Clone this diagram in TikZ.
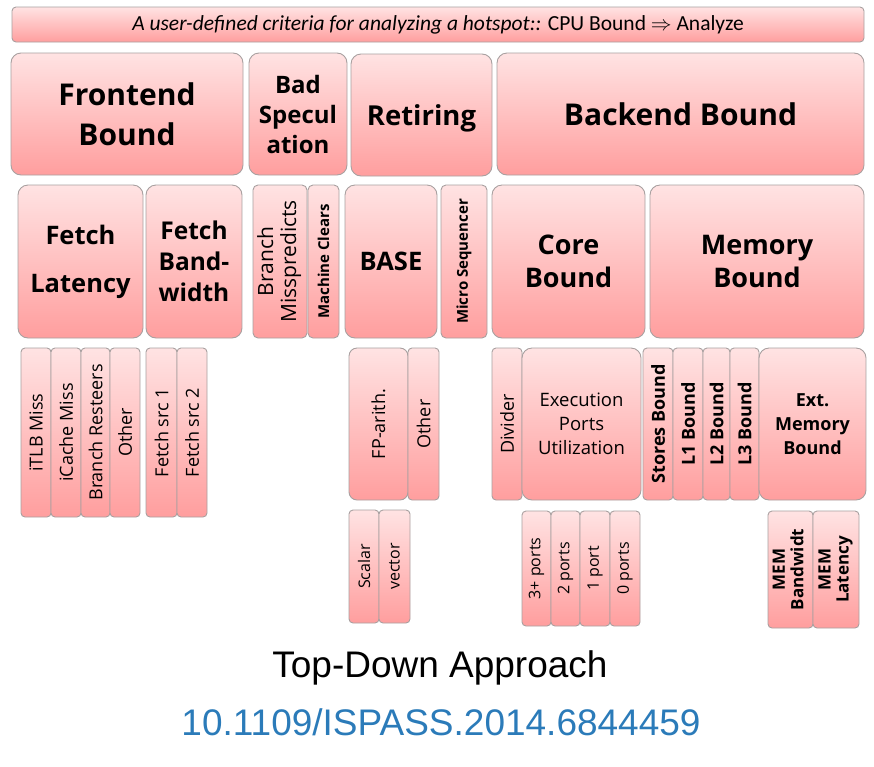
\documentclass[tikz,border=0pt]{standalone}
\usepackage{fontspec}
\setmainfont{Open Sans}
\newfontfamily\carl{Carlito}
\newfontfamily\arialf{Liberation Sans}
\definecolor{pinktop}{HTML}{FFE3E3}
\definecolor{pinkbot}{HTML}{FF9E9E}
\definecolor{edgegray}{HTML}{A8A0A0}
\definecolor{doiblue}{HTML}{2B7BB9}
\tikzset{
  cell/.style={draw=edgegray, line width=0.9pt, rounded corners=#1, top color=pinktop, bottom color=pinkbot, inner sep=0pt, outer sep=0pt, align=center},
  cell/.default=4pt,
  fbig/.style={font=\fontsize{30}{40}\selectfont\bfseries},
  fmid/.style={font=\fontsize{27}{33}\selectfont\bfseries},
  fsmall/.style={font=\fontsize{18}{20}\selectfont},
  fsmallb/.style={font=\fontsize{18}{20}\selectfont\bfseries},
  ftiny/.style={font=\fontsize{16}{18}\selectfont},
}
\newcommand\bx[8]{\node[cell=#6, minimum width={#4pt-#2pt}, minimum height={#5pt-#3pt}, anchor=north west, #7] (#1) at (#2pt,-#3pt) {#8};}
\newcommand\rt[1]{\rotatebox{90}{#1}}
\newcommand\rtt[2]{\rotatebox{90}{\begin{tabular}{@{}c@{}}#1\\#2\end{tabular}}}
\begin{document}
\begin{tikzpicture}
\useasboundingbox (0pt,0pt) rectangle (874pt,-766pt);
% banner
\bx{banner}{12}{7}{864}{42}{4pt}{font=\fontsize{21.5}{22}\selectfont\carl}{\textit{A user-defined criteria for analyzing a hotspot::} CPU Bound $\Rightarrow$ Analyze}
% row 1
\bx{fe}{11}{53}{243}{175}{10pt}{fbig}{Frontend\\Bound}
\bx{bs}{249}{53}{347}{175}{10pt}{font=\fontsize{24}{30}\selectfont\bfseries}{Bad\\Specul\\ation}
\bx{ret}{351}{53}{492}{175}{10pt}{font=\fontsize{27.5}{30}\selectfont\bfseries, text depth=0pt, yshift=-1pt}{Retiring}
\bx{be}{497}{53}{864}{175}{10pt}{fbig}{Backend Bound}
% row 2
\bx{fl}{18}{185}{143}{338}{10pt}{font=\fontsize{25.5}{48}\selectfont\bfseries}{Fetch\\Latency}
\bx{fbw}{146}{185}{242}{338}{10pt}{font=\fontsize{24.5}{31}\selectfont\bfseries}{Fetch\\Band-\\width}
\bx{bm}{253}{185}{307}{338}{5pt}{font=\fontsize{21}{23}\selectfont}{\rtt{Branch}{Misspredicts}}
\bx{mc}{308}{185}{339}{338}{5pt}{font=\fontsize{15}{16}\selectfont\bfseries}{\rt{Machine Clears}}
\bx{base}{345}{185}{437}{338}{10pt}{font=\fontsize{25.5}{30}\selectfont\bfseries}{BASE}
\bx{ms}{441}{185}{487}{338}{5pt}{font=\fontsize{15}{16}\selectfont\bfseries}{\rt{Micro Sequencer}}
\bx{cb}{492}{185}{645}{338}{10pt}{fmid}{Core\\Bound}
\bx{mb}{650}{185}{864}{338}{10pt}{fmid}{Memory\\Bound}
% row 3
\bx{itlb}{21}{348}{51}{517}{4pt}{fsmall}{\rt{iTLB Miss}}
\bx{icache}{51}{348}{81}{517}{4pt}{fsmall}{\rt{iCache Miss}}
\bx{bres}{81}{348}{110}{517}{4pt}{fsmall}{\rt{Branch Resteers}}
\bx{fother}{110}{348}{140}{517}{4pt}{fsmall}{\rt{Other}}
\bx{fs1}{146}{348}{177}{517}{4pt}{fsmall}{\rt{Fetch src 1}}
\bx{fs2}{177}{348}{207}{517}{4pt}{fsmall}{\rt{Fetch src 2}}
\bx{fp}{349}{348}{408}{500}{8pt}{fsmall}{\rt{FP-arith.}}
\bx{bother}{408}{348}{439}{500}{4pt}{fsmall}{\rt{Other}}
\bx{div}{492}{348}{522}{500}{4pt}{fsmall}{\rt{Divider}}
\bx{epu}{522}{348}{641}{500}{10pt}{font=\fontsize{18.5}{24}\selectfont}{Execution\\Ports\\Utilization}
\bx{stb}{643}{348}{673}{500}{4pt}{fsmallb}{\rt{Stores Bound}}
\bx{l1}{673}{348}{703}{500}{4pt}{fsmallb}{\rt{L1 Bound}}
\bx{l2}{703}{348}{730}{500}{4pt}{fsmallb}{\rt{L2 Bound}}
\bx{l3}{730}{348}{759}{500}{4pt}{fsmallb}{\rt{L3 Bound}}
\bx{ext}{759}{348}{866}{500}{10pt}{font=\fontsize{18}{24}\selectfont\bfseries}{Ext.\\Memory\\Bound}
% row 4
\bx{scal}{349}{510}{379}{623}{4pt}{ftiny}{\rt{Scalar}}
\bx{vec}{379}{510}{410}{623}{4pt}{ftiny}{\rt{vector}}
\bx{p3}{522}{511}{551}{626}{4pt}{ftiny}{\rt{3+ ports}}
\bx{p2}{551}{511}{580}{626}{4pt}{ftiny}{\rt{2 ports}}
\bx{p1}{580}{511}{610}{626}{4pt}{ftiny}{\rt{1 port}}
\bx{p0}{610}{511}{640}{626}{4pt}{ftiny}{\rt{0 ports}}
\bx{memb}{768}{511}{813}{628}{4pt}{font=\fontsize{17}{18}\selectfont\bfseries}{\rtt{MEM}{Bandwidt}}
\bx{meml}{813}{511}{859}{628}{4pt}{font=\fontsize{17}{18}\selectfont\bfseries}{\rtt{MEM}{Latency}}
% captions
\node[font=\fontsize{37}{40}\selectfont\arialf] (title) at (440pt,-668pt) {Top-Down Approach};
\node[font=\fontsize{37}{40}\selectfont\arialf, text=doiblue] (doi) at (441pt,-722pt) {10.1109/ISPASS.2014.6844459};
\end{tikzpicture}
\end{document}
